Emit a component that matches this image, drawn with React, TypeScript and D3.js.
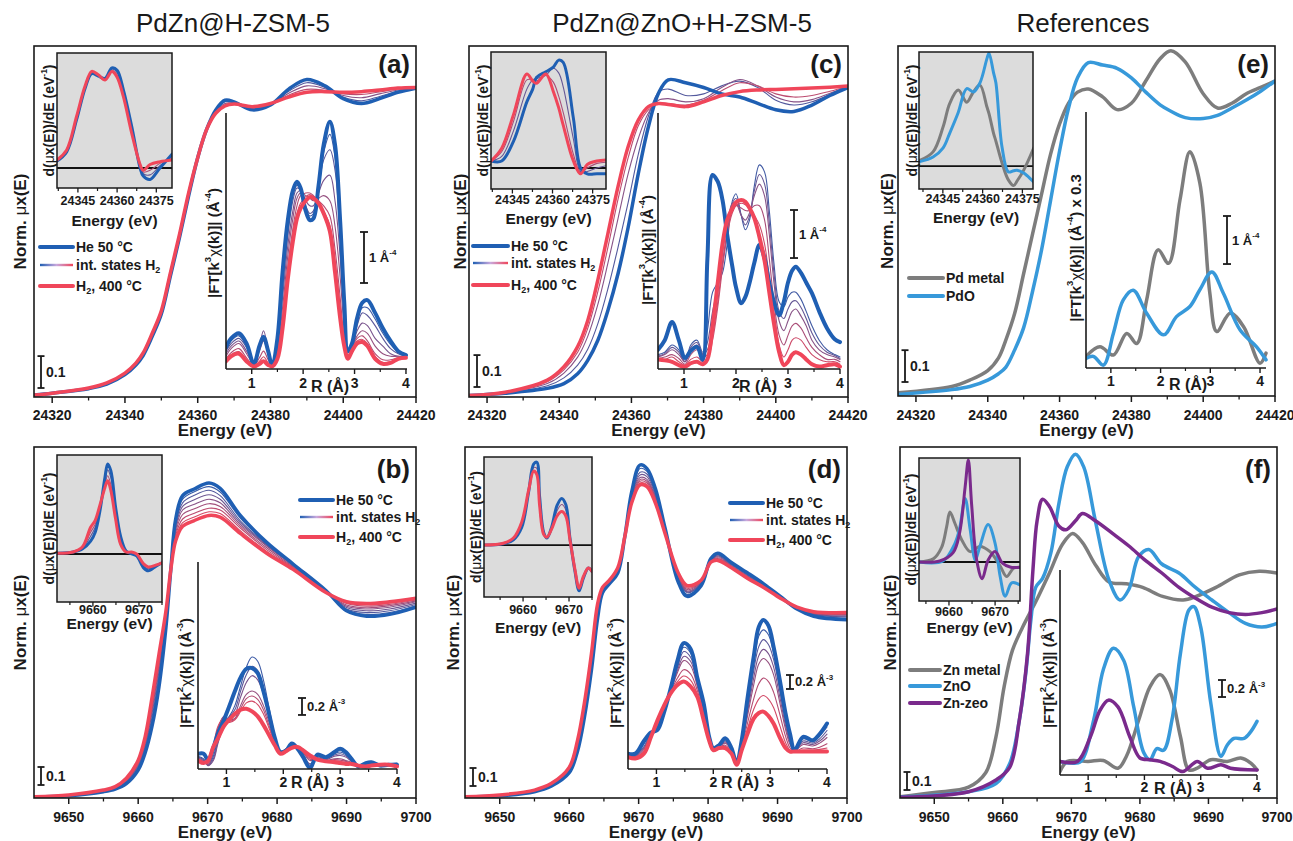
import React from 'react';
import * as d3 from 'd3';

// ======================= DATA =======================
// ---- Panel (a) PdZn@H-ZSM-5, Pd K-edge ----
const A_MAIN_E = [24315,24320,24330,24335,24340,24343,24345,24347.5,24350,24352.5,24355,24357.5,24360,24362.5,24365,24367.5,24370,24375,24380,24385,24390,24395,24400,24405,24410,24415,24420];
const A_MAIN_HE = [0.006,0.012,0.026,0.04,0.07,0.1,0.13,0.19,0.26,0.38,0.5,0.63,0.75,0.84,0.9,0.93,0.925,0.9,0.915,0.965,0.995,0.975,0.935,0.92,0.935,0.955,0.968];
const A_MAIN_H2 = [0.006,0.012,0.028,0.044,0.075,0.106,0.138,0.2,0.27,0.39,0.51,0.64,0.75,0.84,0.89,0.912,0.918,0.91,0.92,0.94,0.955,0.957,0.955,0.957,0.962,0.968,0.97];
const A_MAIN_INT = [
  [0.006,0.012,0.027,0.041,0.071,0.102,0.132,0.193,0.263,0.383,0.503,0.633,0.75,0.84,0.897,0.925,0.922,0.903,0.916,0.958,0.985,0.97,0.94,0.928,0.942,0.958,0.968],
  [0.006,0.012,0.027,0.042,0.073,0.104,0.135,0.196,0.266,0.386,0.506,0.636,0.75,0.84,0.894,0.92,0.92,0.906,0.918,0.952,0.975,0.966,0.945,0.938,0.95,0.962,0.969],
  [0.006,0.012,0.028,0.043,0.074,0.105,0.137,0.198,0.268,0.388,0.508,0.638,0.75,0.84,0.892,0.916,0.919,0.908,0.919,0.946,0.964,0.961,0.95,0.948,0.956,0.965,0.97],
];
const A_DER_E = [24337,24340.7,24344.5,24347.7,24350.3,24352.8,24355.4,24358,24360,24362.4,24365.6,24368.8,24370,24372.6,24376.4,24381];
const A_DER_HE = [0.06,0.14,0.42,0.69,0.82,0.8,0.78,0.87,0.85,0.68,0.36,0.0,-0.07,-0.1,0.0,0.12];
const A_DER_H2 = [0.07,0.157,0.45,0.71,0.84,0.81,0.765,0.84,0.79,0.62,0.3,0.03,-0.02,0.03,0.055,0.07];
const A_DER_INT = [
  [0.063,0.145,0.43,0.7,0.83,0.8,0.775,0.86,0.83,0.66,0.34,0.01,-0.05,-0.06,0.02,0.1],
  [0.067,0.152,0.44,0.705,0.835,0.805,0.77,0.85,0.81,0.64,0.32,0.02,-0.035,-0.02,0.04,0.085],
];
const A_FT_R = [0.5,0.6,0.75,0.9,1.04,1.15,1.23,1.32,1.4,1.5,1.6,1.7,1.8,1.88,1.95,2.05,2.13,2.2,2.3,2.4,2.52,2.62,2.72,2.8,2.87,2.95,3.05,3.15,3.25,3.4,3.55,3.7,3.85,4.0];
const A_FT_HE = [0.43,0.6,0.7,0.5,0.1,0.45,0.63,0.35,0.06,0.6,1.9,2.9,3.5,3.67,3.55,3.1,2.92,2.95,3.6,4.4,4.85,4.4,2.9,1.3,0.35,0.5,1.0,1.3,1.35,1.1,0.8,0.55,0.35,0.27];
const A_FT_H2 = [0.15,0.25,0.3,0.15,0.05,0.1,0.15,0.08,0.05,0.2,0.8,1.75,2.5,2.95,3.15,3.3,3.37,3.35,3.25,3.05,2.7,1.9,1.0,0.45,0.2,0.35,0.5,0.53,0.45,0.2,0.1,0.12,0.2,0.22];
const A_FT_INT = [
  [0.38,0.55,0.65,0.46,0.1,0.42,0.62,0.34,0.07,0.55,1.75,2.75,3.4,3.6,3.52,3.15,3.0,3.05,3.58,4.25,4.6,4.15,2.75,1.25,0.38,0.48,0.92,1.2,1.2,0.98,0.7,0.48,0.33,0.26],
  [0.35,0.5,0.6,0.42,0.1,0.4,0.62,0.33,0.08,0.5,1.6,2.6,3.3,3.55,3.5,3.2,3.05,3.1,3.55,4.1,4.3,3.9,2.6,1.2,0.4,0.45,0.85,1.1,1.05,0.85,0.6,0.4,0.3,0.25],
  [0.3,0.45,0.55,0.35,0.12,0.45,0.75,0.38,0.1,0.45,1.4,2.4,3.1,3.45,3.5,3.3,3.2,3.2,3.45,3.7,3.8,3.3,2.2,1.0,0.4,0.45,0.75,0.9,0.85,0.6,0.45,0.3,0.25,0.25],
  [0.25,0.4,0.5,0.3,0.1,0.35,0.55,0.3,0.08,0.35,1.2,2.2,2.95,3.35,3.45,3.4,3.35,3.3,3.35,3.4,3.3,2.8,1.8,0.8,0.35,0.45,0.65,0.75,0.7,0.45,0.3,0.25,0.25,0.25],
  [0.2,0.32,0.4,0.22,0.07,0.22,0.35,0.18,0.06,0.28,1.0,2.0,2.75,3.2,3.4,3.45,3.45,3.4,3.3,3.2,3.0,2.35,1.4,0.6,0.28,0.4,0.6,0.65,0.55,0.3,0.18,0.18,0.22,0.23],
  [0.17,0.28,0.34,0.18,0.06,0.15,0.24,0.12,0.05,0.23,0.88,1.85,2.6,3.05,3.25,3.38,3.42,3.38,3.28,3.1,2.82,2.1,1.2,0.52,0.24,0.37,0.55,0.58,0.5,0.25,0.13,0.14,0.21,0.22],
];

// ---- Panel (c) PdZn@ZnO+H-ZSM-5, Pd K-edge ----
const C_MAIN_E = [24315,24325,24336.7,24341.3,24345.1,24347.9,24350.7,24353.5,24356.3,24359.1,24361.9,24364.7,24367.5,24370.2,24375,24380,24385,24390,24395,24400,24405,24410,24415,24420];
const C_MAIN_HE = [0.005,0.012,0.027,0.042,0.073,0.115,0.178,0.272,0.387,0.532,0.7,0.847,0.952,0.994,0.985,0.97,0.95,0.94,0.92,0.9,0.895,0.915,0.945,0.97];
const C_MAIN_H2 = [0.005,0.015,0.053,0.095,0.158,0.24,0.367,0.513,0.66,0.785,0.868,0.91,0.92,0.917,0.91,0.925,0.945,0.957,0.962,0.964,0.966,0.968,0.971,0.975];
const C_MAIN_INT = [
  [0.005,0.013,0.035,0.06,0.1,0.15,0.23,0.34,0.47,0.61,0.76,0.88,0.955,0.965,0.945,0.95,0.975,0.99,0.97,0.93,0.915,0.925,0.948,0.97],
  [0.005,0.014,0.042,0.075,0.125,0.19,0.29,0.42,0.56,0.7,0.81,0.89,0.93,0.935,0.925,0.935,0.97,0.995,0.975,0.94,0.925,0.932,0.952,0.972],
  [0.005,0.015,0.048,0.085,0.14,0.215,0.33,0.47,0.62,0.75,0.85,0.9,0.92,0.92,0.915,0.93,0.96,0.985,0.975,0.95,0.94,0.945,0.958,0.973],
];
const C_DER_E = [24337,24341,24345.4,24350.4,24352.6,24354,24357.5,24360.3,24362.3,24364,24367.8,24370.5,24373,24376.6,24380];
const C_DER_HE = [0.06,0.06,0.23,0.57,0.68,0.78,0.83,0.87,0.93,0.91,0.43,0.0,-0.05,-0.05,-0.05];
const C_DER_H2 = [0.06,0.17,0.46,0.81,0.75,0.73,0.81,0.66,0.52,0.37,0.06,-0.05,0.03,0.06,0.07];
const C_DER_INT = [
  [0.06,0.1,0.32,0.68,0.76,0.77,0.8,0.86,0.82,0.7,0.25,-0.03,-0.03,0.0,0.02],
  [0.06,0.14,0.4,0.76,0.76,0.75,0.8,0.74,0.62,0.48,0.12,-0.04,0.0,0.04,0.05],
];
const C_FT_R = [0.5,0.63,0.77,0.9,1.02,1.13,1.25,1.36,1.45,1.55,1.65,1.74,1.83,1.93,2.0,2.1,2.18,2.26,2.35,2.45,2.55,2.64,2.73,2.83,2.92,3.0,3.08,3.15,3.25,3.35,3.46,3.6,3.75,3.9,4.0];
const C_FT_HE = [0.4,0.6,0.98,0.6,0.23,0.38,0.46,0.19,2.3,4.04,3.9,3.52,2.8,2.13,1.7,1.37,1.5,1.79,2.2,2.58,2.3,1.79,1.4,1.12,1.4,1.8,2.05,2.13,2.0,1.8,1.58,1.2,0.85,0.62,0.56];
const C_FT_H2 = [0.2,0.18,0.15,0.08,0.05,0.12,0.15,0.1,0.2,0.9,1.8,2.6,3.1,3.35,3.47,3.52,3.48,3.35,3.15,2.75,2.25,1.6,0.95,0.35,0.08,0.15,0.3,0.35,0.3,0.2,0.1,0.05,0.08,0.1,0.05];
const C_FT_INT = [
  [0.3,0.35,0.5,0.4,0.15,0.5,0.6,0.35,0.8,1.6,1.8,2.0,2.6,3.5,3.65,3.2,2.9,3.1,3.8,4.25,4.1,3.3,2.2,1.4,1.3,1.5,1.6,1.6,1.45,1.2,0.9,0.6,0.4,0.3,0.25],
  [0.27,0.32,0.45,0.35,0.15,0.45,0.55,0.32,0.55,1.2,1.7,2.2,2.8,3.45,3.55,3.2,3.0,3.18,3.7,4.05,3.85,3.05,2.0,1.2,1.05,1.25,1.4,1.42,1.28,1.05,0.75,0.5,0.35,0.28,0.22],
  [0.25,0.3,0.4,0.3,0.15,0.4,0.5,0.3,0.4,0.9,1.6,2.4,3.0,3.45,3.45,3.2,3.1,3.25,3.6,3.85,3.6,2.8,1.8,1.0,0.8,1.0,1.2,1.25,1.1,0.9,0.6,0.4,0.3,0.25,0.2],
  [0.22,0.25,0.3,0.22,0.1,0.3,0.4,0.25,0.3,0.7,1.4,2.2,2.85,3.3,3.4,3.35,3.3,3.3,3.4,3.4,3.1,2.3,1.4,0.7,0.5,0.7,0.9,0.95,0.85,0.65,0.45,0.3,0.2,0.2,0.15],
  [0.2,0.2,0.25,0.15,0.08,0.2,0.25,0.15,0.2,0.6,1.3,2.1,2.8,3.25,3.4,3.45,3.42,3.35,3.2,3.0,2.6,1.9,1.2,0.5,0.25,0.4,0.6,0.65,0.6,0.45,0.3,0.2,0.15,0.15,0.1],
];

// ---- Panel (e) References, Pd K-edge ----
const E_MAIN_E = [24315,24330,24335,24340,24343,24345,24347.5,24350,24352.5,24355,24357.5,24360,24362.5,24365,24368,24372,24376,24380,24384,24388,24391,24395,24400,24404,24408,24412,24416,24420];
const E_MAIN_PD = [0.01,0.03,0.05,0.08,0.12,0.175,0.26,0.385,0.51,0.635,0.76,0.855,0.92,0.955,0.965,0.94,0.9,0.92,0.99,1.06,1.085,1.05,0.95,0.905,0.92,0.95,0.97,0.99];
const E_MAIN_PDO = [0.005,0.02,0.03,0.05,0.07,0.09,0.145,0.215,0.33,0.46,0.615,0.77,0.905,1.0,1.048,1.04,1.03,1.0,0.955,0.915,0.895,0.875,0.872,0.882,0.905,0.93,0.958,0.99];
const E_DER_E = [24336.3,24341.3,24345.1,24347.6,24350.8,24354,24356.5,24359,24361.6,24362.4,24364.1,24365,24367.3,24369.7,24371.7,24373,24375.5,24379.3];
const E_DER_PD = [0.05,0.125,0.345,0.55,0.667,0.56,0.65,0.71,0.52,0.46,0.29,0.22,0.03,-0.12,-0.17,-0.13,-0.035,0.16];
const E_DER_PDO = [0.04,0.08,0.16,0.29,0.47,0.68,0.65,0.73,0.94,0.99,0.82,0.73,0.17,-0.05,-0.04,-0.035,-0.06,-0.14];
const E_FT_PD_R = [0.5,0.78,1.05,1.32,1.52,1.72,1.95,2.16,2.39,2.59,2.79,2.99,3.13,3.4,3.67,4.0,4.12];
const E_FT_PD = [0.24,0.44,0.27,0.72,0.51,1.42,2.46,2.18,3.5,4.5,3.85,1.56,0.76,1.14,0.86,0.1,0.31];
const E_FT_PDO_R = [0.5,0.65,0.85,1.05,1.25,1.45,1.72,2.06,2.32,2.59,2.79,3.03,3.26,3.6,3.93,4.12];
const E_FT_PDO = [0.2,0.24,0.06,0.72,1.42,1.62,1.14,0.69,1.07,1.28,1.63,2.0,1.56,0.79,0.44,0.17];

// ---- Panel (b) PdZn@H-ZSM-5, Zn K-edge ----
const B_MAIN_E = [9645,9650,9655,9656.7,9658.3,9660,9661,9662,9663,9664,9664.7,9665.4,9666.4,9668,9670.2,9671.8,9674.7,9678.5,9682.3,9687.1,9690,9692.9,9696.2,9700];
const B_MAIN_HE = [0.005,0.012,0.035,0.05,0.08,0.155,0.25,0.4,0.62,0.95,1.27,1.55,1.68,1.715,1.75,1.72,1.57,1.42,1.3,1.15,1.04,1.01,1.02,1.06];
const B_MAIN_H2 = [0.007,0.017,0.044,0.063,0.11,0.21,0.34,0.56,0.8,1.04,1.27,1.43,1.51,1.54,1.57,1.56,1.47,1.36,1.27,1.14,1.09,1.08,1.09,1.11];
const B_MAIN_INT = [
  [0.005,0.013,0.036,0.052,0.084,0.162,0.265,0.425,0.65,0.965,1.27,1.535,1.66,1.7,1.73,1.7,1.555,1.415,1.3,1.147,1.045,1.02,1.03,1.068],
  [0.006,0.014,0.038,0.054,0.088,0.17,0.28,0.45,0.68,0.98,1.27,1.52,1.64,1.68,1.71,1.68,1.54,1.41,1.3,1.145,1.05,1.03,1.04,1.075],
  [0.006,0.0145,0.039,0.0555,0.092,0.178,0.29,0.47,0.705,0.99,1.27,1.505,1.62,1.655,1.685,1.66,1.53,1.405,1.295,1.144,1.058,1.04,1.05,1.083],
  [0.006,0.015,0.04,0.057,0.095,0.185,0.3,0.49,0.73,1.0,1.27,1.49,1.6,1.63,1.66,1.64,1.52,1.4,1.29,1.143,1.065,1.05,1.06,1.09],
  [0.0065,0.0155,0.041,0.0585,0.0975,0.193,0.31,0.505,0.745,1.01,1.27,1.475,1.575,1.605,1.635,1.62,1.51,1.39,1.285,1.1425,1.072,1.057,1.068,1.095],
  [0.007,0.016,0.042,0.06,0.1,0.2,0.32,0.52,0.76,1.02,1.27,1.46,1.55,1.58,1.61,1.6,1.5,1.38,1.28,1.142,1.08,1.065,1.075,1.1],
  [0.007,0.0165,0.043,0.0615,0.105,0.205,0.33,0.54,0.78,1.03,1.27,1.445,1.53,1.56,1.59,1.58,1.485,1.37,1.275,1.141,1.085,1.072,1.082,1.105],
];
const B_DER_E = [9652.2,9655.7,9657.7,9659.5,9660.5,9661.5,9662.6,9663.2,9663.9,9664.9,9666,9667.2,9668.4,9669.5,9671,9672,9673.8,9675];
const B_DER_HE = [0.007,0.02,0.05,0.13,0.22,0.43,0.77,0.91,0.84,0.48,0.18,0.03,0.0,-0.02,-0.14,-0.17,-0.12,-0.09];
const B_DER_H2 = [0.007,0.02,0.07,0.27,0.34,0.49,0.67,0.74,0.64,0.36,0.1,0.02,0.02,0.0,-0.1,-0.13,-0.11,-0.09];
const B_DER_INT = [
  [0.007,0.02,0.058,0.18,0.27,0.46,0.73,0.85,0.77,0.43,0.15,0.025,0.01,-0.01,-0.12,-0.15,-0.115,-0.09],
  [0.007,0.02,0.064,0.22,0.3,0.47,0.7,0.79,0.7,0.4,0.12,0.02,0.015,0.0,-0.11,-0.14,-0.11,-0.09],
];
const B_FT_R = [0.5,0.6,0.68,0.77,0.85,0.95,1.05,1.15,1.25,1.35,1.45,1.55,1.65,1.75,1.85,1.95,2.05,2.15,2.25,2.35,2.47,2.6,2.75,2.9,3.0,3.1,3.2,3.32,3.45,3.55,3.7,3.85,4.0];
const B_FT_HE = [0.18,0.18,0.1,0.25,0.42,0.57,0.74,0.92,1.08,1.18,1.19,1.13,0.92,0.65,0.37,0.2,0.22,0.3,0.24,0.14,0.01,0.17,0.14,0.2,0.24,0.2,0.12,0.03,0.07,0.08,0.04,0.05,0.05];
const B_FT_H2 = [0.1,0.07,0.1,0.26,0.36,0.5,0.58,0.65,0.7,0.71,0.68,0.62,0.52,0.4,0.28,0.18,0.21,0.25,0.26,0.22,0.16,0.11,0.09,0.08,0.07,0.06,0.06,0.04,0.03,0.04,0.05,0.05,0.03];
const B_FT_INT = [
  [0.15,0.12,0.05,0.15,0.35,0.55,0.62,0.75,0.98,1.2,1.32,1.27,1.05,0.72,0.4,0.2,0.24,0.3,0.25,0.15,0.03,0.15,0.13,0.18,0.2,0.17,0.1,0.04,0.06,0.08,0.05,0.06,0.07],
  [0.14,0.11,0.045,0.12,0.32,0.52,0.61,0.7,0.92,1.11,1.21,1.16,0.96,0.67,0.39,0.2,0.235,0.29,0.25,0.16,0.045,0.14,0.12,0.165,0.18,0.155,0.095,0.04,0.055,0.075,0.05,0.06,0.065],
  [0.13,0.1,0.04,0.1,0.3,0.5,0.6,0.65,0.85,1.02,1.1,1.05,0.88,0.62,0.38,0.2,0.23,0.28,0.25,0.17,0.06,0.13,0.11,0.15,0.16,0.14,0.09,0.04,0.05,0.07,0.05,0.06,0.06],
  [0.12,0.09,0.05,0.2,0.45,0.62,0.58,0.6,0.75,0.88,0.92,0.88,0.75,0.55,0.34,0.19,0.22,0.27,0.26,0.19,0.1,0.12,0.1,0.12,0.12,0.1,0.08,0.04,0.04,0.06,0.05,0.05,0.05],
  [0.115,0.085,0.065,0.24,0.48,0.61,0.565,0.59,0.71,0.83,0.86,0.82,0.7,0.51,0.32,0.185,0.215,0.265,0.26,0.195,0.115,0.115,0.095,0.11,0.105,0.09,0.075,0.04,0.04,0.055,0.05,0.05,0.045],
  [0.11,0.08,0.08,0.28,0.5,0.6,0.55,0.58,0.68,0.78,0.8,0.76,0.65,0.48,0.31,0.18,0.21,0.26,0.26,0.2,0.13,0.11,0.09,0.1,0.09,0.08,0.07,0.04,0.04,0.05,0.05,0.05,0.04],
];

// ---- Panel (d) PdZn@ZnO+H-ZSM-5, Zn K-edge ----
const D_MAIN_E = [9645,9650,9655,9657.4,9660,9661.2,9662.2,9663.2,9664.1,9664.8,9665.8,9667,9668,9669,9670.2,9671.2,9672.4,9673.8,9675.7,9677,9679,9680.4,9681.4,9683.3,9685.7,9688,9690.4,9692.8,9695.2,9700];
const D_MAIN_HE = [0.005,0.012,0.035,0.065,0.14,0.26,0.45,0.71,1.0,1.14,1.19,1.25,1.45,1.7,1.85,1.83,1.72,1.5,1.2,1.12,1.18,1.33,1.36,1.31,1.25,1.19,1.12,1.05,1.01,0.99];
const D_MAIN_H2 = [0.007,0.017,0.044,0.08,0.17,0.32,0.53,0.8,1.08,1.17,1.21,1.28,1.45,1.64,1.74,1.73,1.64,1.47,1.25,1.18,1.21,1.31,1.32,1.28,1.22,1.17,1.11,1.06,1.035,1.03];
const D_MAIN_INT = [
  [0.0055,0.013,0.0365,0.0675,0.145,0.27,0.465,0.73,1.015,1.145,1.195,1.255,1.45,1.69,1.83,1.815,1.705,1.495,1.21,1.13,1.185,1.325,1.355,1.305,1.245,1.185,1.1175,1.0525,1.015,0.9975],
  [0.006,0.014,0.038,0.07,0.15,0.28,0.48,0.75,1.03,1.15,1.2,1.26,1.45,1.68,1.81,1.8,1.69,1.49,1.22,1.14,1.19,1.32,1.35,1.3,1.24,1.18,1.115,1.055,1.02,1.005],
  [0.006,0.0145,0.039,0.072,0.155,0.29,0.49,0.76,1.04,1.155,1.2,1.265,1.45,1.675,1.795,1.785,1.68,1.485,1.225,1.145,1.195,1.32,1.345,1.295,1.235,1.1775,1.1135,1.056,1.0225,1.01],
  [0.006,0.015,0.04,0.074,0.16,0.3,0.5,0.77,1.05,1.16,1.2,1.27,1.45,1.67,1.78,1.77,1.67,1.48,1.23,1.15,1.2,1.32,1.34,1.29,1.23,1.175,1.112,1.057,1.025,1.015],
  [0.0065,0.0155,0.041,0.0755,0.1625,0.305,0.51,0.78,1.06,1.165,1.205,1.275,1.45,1.66,1.77,1.76,1.665,1.4775,1.235,1.1575,1.2025,1.3175,1.335,1.2875,1.2275,1.1735,1.111,1.0575,1.0275,1.0185],
  [0.007,0.016,0.042,0.077,0.165,0.31,0.52,0.79,1.07,1.17,1.21,1.28,1.45,1.65,1.76,1.75,1.66,1.475,1.24,1.165,1.205,1.315,1.33,1.285,1.225,1.172,1.11,1.058,1.03,1.022],
  [0.007,0.0165,0.043,0.0785,0.1675,0.315,0.525,0.795,1.075,1.17,1.21,1.28,1.45,1.645,1.75,1.74,1.65,1.4725,1.245,1.1725,1.2075,1.3125,1.325,1.2825,1.2225,1.171,1.11,1.059,1.0325,1.026],
];
const D_DER_E = [9651.5,9655.7,9657.9,9659.7,9661.2,9662.3,9663.0,9663.6,9664.5,9665.2,9666.2,9667.4,9668.4,9669.3,9670.2,9671.3,9672.2,9673.1,9674.2,9675];
const D_DER_HE = [0,0.015,0.06,0.2,0.6,0.92,0.94,0.55,0.14,0.08,0.2,0.45,0.53,0.46,0.08,-0.3,-0.52,-0.38,-0.26,-0.3];
const D_DER_H2 = [0,0.02,0.08,0.26,0.62,0.84,0.8,0.45,0.12,0.09,0.18,0.33,0.38,0.33,0.06,-0.28,-0.49,-0.36,-0.26,-0.3];
const D_DER_INT = [
  [0,0.017,0.07,0.23,0.61,0.88,0.87,0.5,0.13,0.085,0.19,0.39,0.46,0.4,0.07,-0.29,-0.5,-0.37,-0.26,-0.3],
];
const D_FT_R = [0.5,0.63,0.78,0.9,1.02,1.13,1.25,1.37,1.48,1.6,1.72,1.83,1.93,2.0,2.1,2.21,2.32,2.41,2.5,2.6,2.71,2.8,2.88,2.97,3.06,3.17,3.27,3.35,3.43,3.58,3.75,3.87,4.0];
const D_FT_HE = [0.22,0.22,0.4,0.52,0.56,0.8,1.15,1.55,1.8,1.72,1.3,0.94,0.45,0.3,0.34,0.44,0.3,0.08,0.41,1.0,1.6,2.03,2.13,2.05,1.75,1.27,0.8,0.5,0.27,0.46,0.41,0.5,0.65];
const D_FT_H2 = [0.17,0.15,0.22,0.45,0.7,0.9,1.08,1.2,1.25,1.18,1.03,0.7,0.4,0.27,0.3,0.3,0.22,0.06,0.27,0.5,0.72,0.8,0.82,0.76,0.65,0.45,0.3,0.25,0.25,0.25,0.25,0.25,0.25];
const D_FT_INT = [
  [0.21,0.21,0.36,0.51,0.58,0.83,1.14,1.5,1.74,1.66,1.28,0.91,0.45,0.3,0.34,0.42,0.29,0.075,0.39,0.92,1.5,1.9,1.99,1.92,1.66,1.2,0.74,0.45,0.27,0.43,0.39,0.47,0.6],
  [0.2,0.2,0.32,0.5,0.6,0.85,1.13,1.45,1.68,1.6,1.25,0.88,0.44,0.29,0.33,0.4,0.28,0.07,0.37,0.85,1.4,1.75,1.85,1.78,1.57,1.12,0.67,0.4,0.26,0.4,0.37,0.43,0.55],
  [0.195,0.19,0.3,0.49,0.61,0.86,1.12,1.41,1.61,1.54,1.21,0.85,0.435,0.285,0.325,0.385,0.27,0.07,0.355,0.8,1.3,1.62,1.71,1.65,1.46,1.03,0.62,0.375,0.26,0.375,0.35,0.4,0.5],
  [0.19,0.18,0.28,0.48,0.63,0.87,1.11,1.38,1.55,1.48,1.18,0.82,0.43,0.28,0.32,0.37,0.26,0.07,0.34,0.75,1.2,1.5,1.58,1.52,1.35,0.95,0.57,0.35,0.26,0.35,0.33,0.37,0.45],
  [0.18,0.17,0.25,0.47,0.66,0.88,1.1,1.3,1.42,1.36,1.12,0.77,0.42,0.28,0.31,0.34,0.24,0.06,0.31,0.65,1.0,1.22,1.3,1.25,1.1,0.78,0.47,0.3,0.25,0.3,0.29,0.31,0.36],
  [0.17,0.16,0.23,0.46,0.68,0.89,1.09,1.25,1.33,1.27,1.07,0.73,0.41,0.27,0.3,0.32,0.23,0.06,0.29,0.57,0.85,1.0,1.05,1.0,0.88,0.62,0.38,0.27,0.25,0.27,0.27,0.28,0.3],
];

// ---- Panel (f) References, Zn K-edge ----
const F_MAIN_ZN_E = [9645,9650,9655,9657.5,9659,9660.2,9661.4,9662.9,9664.8,9666.8,9668.7,9670.2,9671.6,9673.6,9675.5,9678,9680.4,9683.3,9686.3,9688.2,9691.1,9694.5,9697.4,9700];
const F_MAIN_ZN = [0.007,0.03,0.06,0.14,0.34,0.62,0.82,0.95,1.09,1.25,1.41,1.47,1.42,1.29,1.2,1.19,1.17,1.12,1.1,1.12,1.17,1.24,1.26,1.25];
const F_MAIN_ZNO_E = [9645,9655,9659,9661,9662.4,9663.4,9664.1,9664.8,9665.8,9667,9668.2,9669.4,9670.6,9671.8,9673.5,9675.5,9677.1,9678.4,9679.8,9681.3,9683.2,9685.7,9688.1,9690.5,9693,9695.4,9697.8,9700];
const F_MAIN_ZNO = [0.005,0.035,0.08,0.19,0.43,0.71,0.99,1.17,1.22,1.36,1.64,1.84,1.91,1.84,1.54,1.21,1.1,1.16,1.34,1.38,1.3,1.25,1.17,1.1,1.03,0.97,0.95,0.97];
const F_MAIN_ZEO_E = [9645,9655,9659,9661,9662.4,9663.6,9664.4,9665,9665.8,9666.8,9668.2,9669.2,9670.6,9671.6,9673.5,9676,9678.4,9680.8,9683.2,9685.7,9688.1,9690.5,9693,9695.4,9697.8,9700];
const F_MAIN_ZEO = [0.004,0.035,0.1,0.17,0.43,0.8,1.27,1.54,1.66,1.62,1.51,1.49,1.54,1.58,1.54,1.47,1.4,1.32,1.25,1.17,1.11,1.06,1.03,1.02,1.03,1.05];
const F_DER_ZN_E = [9653.5,9656.6,9658.4,9659.5,9660.2,9661.3,9662.8,9664.6,9666.7,9668.9,9671.1,9672.5,9674,9675.4];
const F_DER_ZN = [0,0.03,0.14,0.34,0.48,0.37,0.21,0.1,0.15,0.1,-0.04,-0.14,-0.06,-0.05];
const F_DER_ZNO_E = [9653.5,9658.7,9661.3,9662.3,9663.5,9664.6,9665.7,9666.7,9668.5,9670,9671.1,9672.2,9673.6,9675.4];
const F_DER_ZNO = [0,0.01,0.18,0.32,0.61,0.31,0.02,0.15,0.36,0.18,-0.14,-0.33,-0.2,-0.22];
const F_DER_ZEO_E = [9653.5,9658,9660.9,9662.3,9663.5,9664.2,9664.9,9666,9667.2,9668.5,9670,9671.6,9673.4,9675.4];
const F_DER_ZEO = [0,0.01,0.09,0.28,0.72,0.98,0.56,0.02,-0.16,0.02,0.1,-0.01,-0.05,-0.05];
const F_FT_ZNO_R = [0.5,0.69,0.87,1.1,1.27,1.45,1.63,1.81,1.99,2.1,2.22,2.34,2.49,2.64,2.79,2.88,3.0,3.18,3.36,3.47,3.59,3.77,3.89,4.0];
const F_FT_ZNO = [0.16,0.14,0.16,0.65,1.24,1.49,1.35,0.8,0.26,0.18,0.31,0.29,0.65,1.43,1.94,1.98,1.74,0.84,0.22,0.35,0.43,0.43,0.51,0.63];
const F_FT_ZN_R = [0.5,0.63,1.0,1.27,1.53,1.68,1.9,2.1,2.28,2.45,2.64,2.79,2.94,3.18,3.47,3.71,3.89,4.0];
const F_FT_ZN = [0.04,0.16,0.16,0.17,0.08,0.22,0.65,1.04,1.18,1.0,0.45,0.06,0.08,0.18,0.16,0.2,0.14,0.06];
const F_FT_ZEO_R = [0.5,0.81,1.04,1.21,1.36,1.53,1.74,1.92,2.1,2.28,2.5,2.68,2.94,3.12,3.36,3.53,4.0];
const F_FT_ZEO = [0.16,0.16,0.45,0.76,0.88,0.8,0.45,0.2,0.18,0.16,0.1,0.04,0.16,0.08,0.12,0.08,0.06];

// ---- ticks / labels ----
const PD_MAJOR = [24320,24340,24360,24380,24400,24420];
const PD_MINOR = [24330,24350,24370,24390,24410];
const ZN_MAJOR = [9650,9660,9670,9680,9690,9700];
const ZN_MINOR = [9655,9665,9675,9685,9695];
const PD_DER_MAJOR = [24345,24360,24375];
const PD_DER_MINOR = [24337.5,24352.5,24367.5];
const ZN_DER_MAJOR = [9660,9670];
const ZN_DER_MINOR = [9655,9665,9675];
const R_MAJOR = [1,2,3,4];
const R_MINOR = [1.5,2.5,3.5];
const TITLES = ['PdZn@H-ZSM-5','PdZn@ZnO+H-ZSM-5','References'];
const STATE_LABELS = ['He 50 °C','int. states H','H'];

// ======================= STYLE =======================
const BLUE = '#1f5fb3';
const RED = '#f0465a';
const GRAY = '#7d7d7d';
const LBLUE = '#3799da';
const PURPLE = '#7a2a8c';
const INK = '#1a1a1a';
const FONT = "'Liberation Sans', Arial, Helvetica, sans-serif";
const mix = d3.interpolateRgb(BLUE, RED);

type Ser = { x: number[]; y: number[]; c: string; w: number };
type Box = { l: number; t: number; r: number; b: number };

function stateSeries(x: number[], he: number[], ints: number[][], h2: number[], wThick: number, wThin = 1.1): Ser[] {
  const out: Ser[] = ints.map((y, i) => ({ x, y, c: mix((i + 1) / (ints.length + 1)), w: wThin }));
  out.push({ x, y: he, c: BLUE, w: wThick });
  out.push({ x, y: h2, c: RED, w: wThick });
  return out;
}

function Paths({ s, xs, ys }: { s: Ser[]; xs: any; ys: any }) {
  return (
    <>
      {s.map((d, i) => {
        const g = d3.line<number>().x((_, j) => xs(d.x[j])).y((v) => ys(v)).curve(d3.curveCatmullRom.alpha(0.5));
        return <path key={i} d={g(d.y) || ''} fill="none" stroke={d.c} strokeWidth={d.w} strokeLinejoin="round" strokeLinecap="round" />;
      })}
    </>
  );
}

function IBar({ x, y1, y2, w = 4 }: { x: number; y1: number; y2: number; w?: number }) {
  return (
    <g stroke={INK} strokeWidth={1.8}>
      <line x1={x} x2={x} y1={y1} y2={y2} />
      <line x1={x - w} x2={x + w} y1={y1} y2={y1} />
      <line x1={x - w} x2={x + w} y1={y2} y2={y2} />
    </g>
  );
}

function MainPlot(p: {
  id: string; box: Box; xd: [number, number]; yd: [number, number]; majors: number[]; minors: number[];
  series: Ser[]; tickY: number; labY: number; ylabX: number; barX: number; barBottom: number; letter: string; letterY: number;
}) {
  const { box } = p;
  const xs = d3.scaleLinear().domain(p.xd).range([box.l, box.r]);
  const ys = d3.scaleLinear().domain(p.yd).range([box.b, box.t]);
  const barPx = ys(0) - ys(0.1);
  return (
    <g>
      <clipPath id={p.id}><rect x={box.l} y={box.t} width={box.r - box.l} height={box.b - box.t} /></clipPath>
      <g clipPath={`url(#${p.id})`}><Paths s={p.series} xs={xs} ys={ys} /></g>
      <rect x={box.l} y={box.t} width={box.r - box.l} height={box.b - box.t} fill="none" stroke={INK} strokeWidth={1.6} />
      {p.majors.map((v) => <line key={'M' + v} x1={xs(v)} x2={xs(v)} y1={box.b} y2={box.b + 6} stroke={INK} strokeWidth={1.5} />)}
      {p.minors.map((v) => <line key={'m' + v} x1={xs(v)} x2={xs(v)} y1={box.b} y2={box.b + 3.5} stroke={INK} strokeWidth={1.3} />)}
      {p.majors.map((v) => (
        <text key={'t' + v} x={xs(v)} y={p.tickY} textAnchor="middle" dominantBaseline="central" fontSize={14} fontWeight={700} fontFamily={FONT} fill={INK}>{v}</text>
      ))}
      <text x={(box.l + box.r) / 2} y={p.labY} textAnchor="middle" dominantBaseline="central" fontSize={17} fontWeight={700} fontFamily={FONT} fill={INK}>Energy (eV)</text>
      <text transform={`translate(${p.ylabX},${(box.t + box.b) / 2}) rotate(-90)`} textAnchor="middle" dominantBaseline="central" fontSize={17} fontWeight={700} fontFamily={FONT} fill={INK}>
        Norm. <tspan fontWeight={400}>μ</tspan>x(E)
      </text>
      <IBar x={p.barX} y1={p.barBottom - barPx} y2={p.barBottom} w={3.5} />
      <text x={p.barX + 5} y={p.barBottom - barPx / 2} dominantBaseline="central" fontSize={14} fontWeight={700} fontFamily={FONT} fill={INK}>0.1</text>
      <text x={box.r - 6} y={p.letterY} textAnchor="end" fontSize={26} fontWeight={700} fontFamily={FONT} fill={INK}>{p.letter}</text>
    </g>
  );
}

function DerivInset(p: {
  id: string; box: Box; xd: [number, number]; yd: [number, number]; majors: number[]; minors: number[];
  series: Ser[]; tickY: number; labY: number; ylabX: number;
}) {
  const { box } = p;
  const xs = d3.scaleLinear().domain(p.xd).range([box.l, box.r]);
  const ys = d3.scaleLinear().domain(p.yd).range([box.b, box.t]);
  return (
    <g>
      <rect x={box.l} y={box.t} width={box.r - box.l} height={box.b - box.t} fill="#dcdcdc" />
      <line x1={box.l} x2={box.r} y1={ys(0)} y2={ys(0)} stroke="#111" strokeWidth={1.8} />
      <clipPath id={p.id}><rect x={box.l} y={box.t} width={box.r - box.l} height={box.b - box.t} /></clipPath>
      <g clipPath={`url(#${p.id})`}><Paths s={p.series} xs={xs} ys={ys} /></g>
      <rect x={box.l} y={box.t} width={box.r - box.l} height={box.b - box.t} fill="none" stroke={INK} strokeWidth={1.5} />
      {p.majors.map((v) => <line key={'M' + v} x1={xs(v)} x2={xs(v)} y1={box.b} y2={box.b + 4.5} stroke={INK} strokeWidth={1.3} />)}
      {p.minors.map((v) => <line key={'m' + v} x1={xs(v)} x2={xs(v)} y1={box.b} y2={box.b + 3} stroke={INK} strokeWidth={1.2} />)}
      {p.majors.map((v) => (
        <text key={'t' + v} x={xs(v)} y={p.tickY} textAnchor="middle" dominantBaseline="central" fontSize={12.5} fontWeight={700} fontFamily={FONT} fill={INK}>{v}</text>
      ))}
      <text x={(box.l + box.r) / 2} y={p.labY} textAnchor="middle" dominantBaseline="central" fontSize={15.5} fontWeight={700} fontFamily={FONT} fill={INK}>Energy (eV)</text>
      <text transform={`translate(${p.ylabX},${(box.t + box.b) / 2}) rotate(-90)`} textAnchor="middle" dominantBaseline="central" fontSize={14} fontWeight={700} fontFamily={FONT} fill={INK}>
        d(<tspan fontWeight={400}>μ</tspan>x(E))/dE (eV<tspan dy={-5} fontSize={8.5}>-1</tspan><tspan dy={5}>)</tspan>
      </text>
    </g>
  );
}

function FTInset(p: {
  id: string; ox: number; oy: number; right: number; top: number; xd: [number, number]; yd: [number, number];
  series: Ser[]; tickY: number; rlabX: number; rlabY: number; ylabX: number; ylabCY: number; pow: string; unit: string; extra?: string;
  barX: number; barTop: number; barUnits: number; barText: string;
}) {
  const xs = d3.scaleLinear().domain(p.xd).range([p.ox, p.right]);
  const ys = d3.scaleLinear().domain(p.yd).range([p.oy, p.top]);
  const barPx = ys(0) - ys(p.barUnits);
  return (
    <g>
      <clipPath id={p.id}><rect x={p.ox} y={p.top - 5} width={p.right - p.ox + 2} height={p.oy - p.top + 5} /></clipPath>
      <g clipPath={`url(#${p.id})`}><Paths s={p.series} xs={xs} ys={ys} /></g>
      <line x1={p.ox} x2={p.ox} y1={p.top} y2={p.oy} stroke={INK} strokeWidth={1.6} />
      <line x1={p.ox} x2={p.right} y1={p.oy} y2={p.oy} stroke={INK} strokeWidth={1.6} />
      {R_MAJOR.map((v) => <line key={'M' + v} x1={xs(v)} x2={xs(v)} y1={p.oy} y2={p.oy + 5} stroke={INK} strokeWidth={1.4} />)}
      {R_MINOR.map((v) => <line key={'m' + v} x1={xs(v)} x2={xs(v)} y1={p.oy} y2={p.oy + 3} stroke={INK} strokeWidth={1.2} />)}
      {R_MAJOR.map((v) => (
        <text key={'t' + v} x={xs(v)} y={p.tickY} textAnchor="middle" dominantBaseline="central" fontSize={14} fontWeight={700} fontFamily={FONT} fill={INK}>{v}</text>
      ))}
      <text x={p.rlabX} y={p.rlabY} textAnchor="middle" dominantBaseline="central" fontSize={16} fontWeight={700} fontFamily={FONT} fill={INK}>R (Å)</text>
      <text transform={`translate(${p.ylabX},${p.ylabCY}) rotate(-90)`} textAnchor="middle" dominantBaseline="central" fontSize={15} fontWeight={700} fontFamily={FONT} fill={INK}>
        |FT[k<tspan dy={-6} fontSize={9.5}>{p.pow}</tspan><tspan dy={6} fontWeight={400}>χ</tspan>(k)]| (Å<tspan dy={-6} fontSize={9.5}>{p.unit}</tspan><tspan dy={6}>){p.extra || ''}</tspan>
      </text>
      <IBar x={p.barX} y1={p.barTop} y2={p.barTop + barPx} w={4} />
      <text x={p.barX + 5} y={p.barTop + barPx / 2} dominantBaseline="central" fontSize={13} fontWeight={700} fontFamily={FONT} fill={INK}>
        {p.barText} Å<tspan dy={-5} fontSize={8}>{p.unit}</tspan>
      </text>
    </g>
  );
}

function StateLegend({ x1, x2, ys }: { x1: number; x2: number; ys: number[] }) {
  const tx = x2 + 3;
  const common = { fontSize: 14, fontWeight: 700, fontFamily: FONT, fill: INK, dominantBaseline: 'central' as const };
  return (
    <g>
      <line x1={x1} x2={x2} y1={ys[0]} y2={ys[0]} stroke={BLUE} strokeWidth={4} strokeLinecap="round" />
      <text x={tx} y={ys[0]} {...common}>{STATE_LABELS[0]}</text>
      <rect x={x1} y={ys[1] - 1.2} width={x2 - x1} height={2.4} fill="url(#intgrad)" />
      <text x={tx} y={ys[1]} {...common}>{STATE_LABELS[1]}<tspan dy={5} fontSize={9}>2</tspan></text>
      <line x1={x1} x2={x2} y1={ys[2]} y2={ys[2]} stroke={RED} strokeWidth={4} strokeLinecap="round" />
      <text x={tx} y={ys[2]} {...common}>{STATE_LABELS[2]}<tspan dy={5} fontSize={9}>2</tspan><tspan dy={-5}>, 400 °C</tspan></text>
    </g>
  );
}

function RefLegend({ x1, x2, ys, items }: { x1: number; x2: number; ys: number[]; items: { c: string; t: string }[] }) {
  return (
    <g>
      {items.map((it, i) => (
        <g key={i}>
          <line x1={x1} x2={x2} y1={ys[i]} y2={ys[i]} stroke={it.c} strokeWidth={4} strokeLinecap="round" />
          <text x={x2 + 3} y={ys[i]} dominantBaseline="central" fontSize={14} fontWeight={700} fontFamily={FONT} fill={INK}>{it.t}</text>
        </g>
      ))}
    </g>
  );
}

export default function App() {
  const PDX: [number, number] = [24315, 24420];
  const ZNX: [number, number] = [9645, 9700];
  const TOPY: [number, number] = [0, 1.1];
  const BOTY: [number, number] = [0, 1.95];

  const ser = {
    aMain: stateSeries(A_MAIN_E, A_MAIN_HE, A_MAIN_INT, A_MAIN_H2, 3.5),
    aDer: stateSeries(A_DER_E, A_DER_HE, A_DER_INT, A_DER_H2, 3),
    aFT: stateSeries(A_FT_R, A_FT_HE, A_FT_INT, A_FT_H2, 4),
    cMain: stateSeries(C_MAIN_E, C_MAIN_HE, C_MAIN_INT, C_MAIN_H2, 3.5),
    cDer: stateSeries(C_DER_E, C_DER_HE, C_DER_INT, C_DER_H2, 3),
    cFT: stateSeries(C_FT_R, C_FT_HE, C_FT_INT, C_FT_H2, 4),
    bMain: stateSeries(B_MAIN_E, B_MAIN_HE, B_MAIN_INT, B_MAIN_H2, 3.5),
    bDer: stateSeries(B_DER_E, B_DER_HE, B_DER_INT, B_DER_H2, 3),
    bFT: stateSeries(B_FT_R, B_FT_HE, B_FT_INT, B_FT_H2, 4),
    dMain: stateSeries(D_MAIN_E, D_MAIN_HE, D_MAIN_INT, D_MAIN_H2, 3.5),
    dDer: stateSeries(D_DER_E, D_DER_HE, D_DER_INT, D_DER_H2, 3),
    dFT: stateSeries(D_FT_R, D_FT_HE, D_FT_INT, D_FT_H2, 4),
  };
  const eMain: Ser[] = [
    { x: E_MAIN_E, y: E_MAIN_PD, c: GRAY, w: 3.5 },
    { x: E_MAIN_E, y: E_MAIN_PDO, c: LBLUE, w: 3.5 },
  ];
  const eDer: Ser[] = [
    { x: E_DER_E, y: E_DER_PD, c: GRAY, w: 3 },
    { x: E_DER_E, y: E_DER_PDO, c: LBLUE, w: 3 },
  ];
  const eFT: Ser[] = [
    { x: E_FT_PD_R, y: E_FT_PD, c: GRAY, w: 3.5 },
    { x: E_FT_PDO_R, y: E_FT_PDO, c: LBLUE, w: 3.5 },
  ];
  const fMain: Ser[] = [
    { x: F_MAIN_ZN_E, y: F_MAIN_ZN, c: GRAY, w: 3.5 },
    { x: F_MAIN_ZNO_E, y: F_MAIN_ZNO, c: LBLUE, w: 3.5 },
    { x: F_MAIN_ZEO_E, y: F_MAIN_ZEO, c: PURPLE, w: 3.5 },
  ];
  const fDer: Ser[] = [
    { x: F_DER_ZN_E, y: F_DER_ZN, c: GRAY, w: 3 },
    { x: F_DER_ZNO_E, y: F_DER_ZNO, c: LBLUE, w: 3 },
    { x: F_DER_ZEO_E, y: F_DER_ZEO, c: PURPLE, w: 3 },
  ];
  const fFT: Ser[] = [
    { x: F_FT_ZN_R, y: F_FT_ZN, c: GRAY, w: 3.5 },
    { x: F_FT_ZNO_R, y: F_FT_ZNO, c: LBLUE, w: 3.5 },
    { x: F_FT_ZEO_R, y: F_FT_ZEO, c: PURPLE, w: 3.5 },
  ];

  return (
    <svg width={1293} height={841} viewBox="0 0 1293 841" style={{ position: 'absolute', left: 0, top: 0, background: '#fff' }}>
      <defs>
        <linearGradient id="intgrad" x1="0" x2="1" y1="0" y2="0">
          <stop offset="0" stopColor={BLUE} />
          <stop offset="0.5" stopColor="#c8a8dc" />
          <stop offset="1" stopColor={RED} />
        </linearGradient>
      </defs>
      <rect x={0} y={0} width={1293} height={841} fill="#fff" />

      {[233, 682, 1083].map((cx, i) => (
        <text key={i} x={cx} y={23} textAnchor="middle" dominantBaseline="central" fontSize={26} fontFamily={FONT} fill={INK}>{TITLES[i]}</text>
      ))}

      {/* ---------- (a) ---------- */}
      <MainPlot id="ca" box={{ l: 34, t: 46, r: 416, b: 397 }} xd={PDX} yd={TOPY} majors={PD_MAJOR} minors={PD_MINOR}
        series={ser.aMain} tickY={415} labY={430} ylabX={20} barX={41} barBottom={388} letter="(a)" letterY={73} />
      <DerivInset id="cad" box={{ l: 57, t: 53, r: 172, b: 188 }} xd={[24337, 24381]} yd={[-0.174, 1]} majors={PD_DER_MAJOR} minors={PD_DER_MINOR}
        series={ser.aDer} tickY={201} labY={220} ylabX={49} />
      <FTInset id="caf" ox={226} oy={369} right={407} top={113} xd={[0.5, 4.02]} yd={[0, 5.02]} series={ser.aFT}
        tickY={383} rlabX={330} rlabY={386} ylabX={213} ylabCY={243} pow="3" unit="-4"
        barX={364} barTop={232} barUnits={1} barText="1" />
      <StateLegend x1={40} x2={73} ys={[247, 265, 286]} />

      {/* ---------- (c) ---------- */}
      <MainPlot id="cc" box={{ l: 469, t: 46, r: 848, b: 397 }} xd={PDX} yd={TOPY} majors={PD_MAJOR} minors={PD_MINOR}
        series={ser.cMain} tickY={415} labY={430} ylabX={460} barX={477} barBottom={387} letter="(c)" letterY={73} />
      <DerivInset id="ccd" box={{ l: 491, t: 52, r: 606, b: 189 }} xd={[24337, 24380]} yd={[-0.181, 1]} majors={PD_DER_MAJOR} minors={PD_DER_MINOR}
        series={ser.cDer} tickY={200} labY={218} ylabX={483} />
      <FTInset id="ccf" ox={658} oy={369} right={840} top={113} xd={[0.5, 4.0]} yd={[0, 5.33]} series={ser.cFT}
        tickY={383} rlabX={758} rlabY={386} ylabX={647} ylabCY={250} pow="3" unit="-4"
        barX={794} barTop={210} barUnits={1} barText="1" />
      <StateLegend x1={473} x2={508} ys={[246, 263, 285]} />

      {/* ---------- (e) ---------- */}
      <MainPlot id="ce" box={{ l: 898, t: 46, r: 1275, b: 396 }} xd={PDX} yd={TOPY} majors={PD_MAJOR} minors={PD_MINOR}
        series={eMain} tickY={415} labY={430} ylabX={887} barX={905} barBottom={382} letter="(e)" letterY={73} />
      <DerivInset id="ced" box={{ l: 919, t: 52, r: 1033, b: 189 }} xd={[24336, 24379]} yd={[-0.2, 1]} majors={PD_DER_MAJOR} minors={PD_DER_MINOR}
        series={eDer} tickY={199} labY={217} ylabX={912} />
      <FTInset id="cef" ox={1086} oy={368} right={1266} top={112} xd={[0.5, 4.12]} yd={[0, 5.33]} series={eFT}
        tickY={381} rlabX={1188} rlabY={384} ylabX={1075} ylabCY={248} pow="3" unit="-4" extra=" x 0.3"
        barX={1227} barTop={216} barUnits={1} barText="1" />
      <RefLegend x1={909} x2={943} ys={[278, 296]} items={[{ c: GRAY, t: 'Pd metal' }, { c: LBLUE, t: 'PdO' }]} />

      {/* ---------- (b) ---------- */}
      <MainPlot id="cb" box={{ l: 34, t: 447, r: 416, b: 798 }} xd={ZNX} yd={BOTY} majors={ZN_MAJOR} minors={ZN_MINOR}
        series={ser.bMain} tickY={817} labY={832} ylabX={20} barX={41} barBottom={785} letter="(b)" letterY={478} />
      <DerivInset id="cbd" box={{ l: 57, t: 455, r: 162, b: 602 }} xd={[9652.2, 9675]} yd={[-0.485, 1]} majors={ZN_DER_MAJOR} minors={ZN_DER_MINOR}
        series={ser.bDer} tickY={610} labY={623} ylabX={49} />
      <FTInset id="cbf" ox={198} oy={769} right={397} top={562} xd={[0.5, 4.0]} yd={[0, 2.44]} series={ser.bFT}
        tickY={782} rlabX={310} rlabY={782} ylabX={185} ylabCY={673} pow="2" unit="-3"
        barX={302} barTop={698} barUnits={0.2} barText="0.2" />
      <StateLegend x1={300} x2={333} ys={[500, 517, 537]} />

      {/* ---------- (d) ---------- */}
      <MainPlot id="cd" box={{ l: 465, t: 447, r: 847, b: 798 }} xd={ZNX} yd={BOTY} majors={ZN_MAJOR} minors={ZN_MINOR}
        series={ser.dMain} tickY={817} labY={832} ylabX={453} barX={473} barBottom={786} letter="(d)" letterY={478} />
      <DerivInset id="cdd" box={{ l: 484, t: 457, r: 592, b: 597 }} xd={[9651.5, 9675]} yd={[-0.59, 1]} majors={ZN_DER_MAJOR} minors={ZN_DER_MINOR}
        series={ser.dDer} tickY={610} labY={627} ylabX={476} />
      <FTInset id="cdf" ox={628} oy={769} right={827} top={562} xd={[0.5, 4.0]} yd={[0, 2.96]} series={ser.dFT}
        tickY={782} rlabX={740} rlabY={782} ylabX={615} ylabCY={673} pow="2" unit="-3"
        barX={790} barTop={675} barUnits={0.2} barText="0.2" />
      <StateLegend x1={730} x2={763} ys={[503, 520, 540]} />

      {/* ---------- (f) ---------- */}
      <MainPlot id="cf" box={{ l: 900, t: 447, r: 1277, b: 798 }} xd={ZNX} yd={BOTY} majors={ZN_MAJOR} minors={ZN_MINOR}
        series={fMain} tickY={817} labY={832} ylabX={890} barX={907} barBottom={790} letter="(f)" letterY={478} />
      <DerivInset id="cfd" box={{ l: 919, t: 458, r: 1020, b: 601 }} xd={[9653.5, 9675.4]} yd={[-0.375, 1]} majors={ZN_DER_MAJOR} minors={ZN_DER_MINOR}
        series={fDer} tickY={612} labY={627} ylabX={911} />
      <FTInset id="cff" ox={1060} oy={775} right={1257} top={570} xd={[0.5, 4.0]} yd={[0, 2.41]} series={fFT}
        tickY={787} rlabX={1173} rlabY={788} ylabX={1048} ylabCY={673} pow="2" unit="-3"
        barX={1222} barTop={680} barUnits={0.2} barText="0.2" />
      <RefLegend x1={910} x2={940} ys={[670, 686, 703]} items={[{ c: GRAY, t: 'Zn metal' }, { c: LBLUE, t: 'ZnO' }, { c: PURPLE, t: 'Zn-zeo' }]} />
    </svg>
  );
}
